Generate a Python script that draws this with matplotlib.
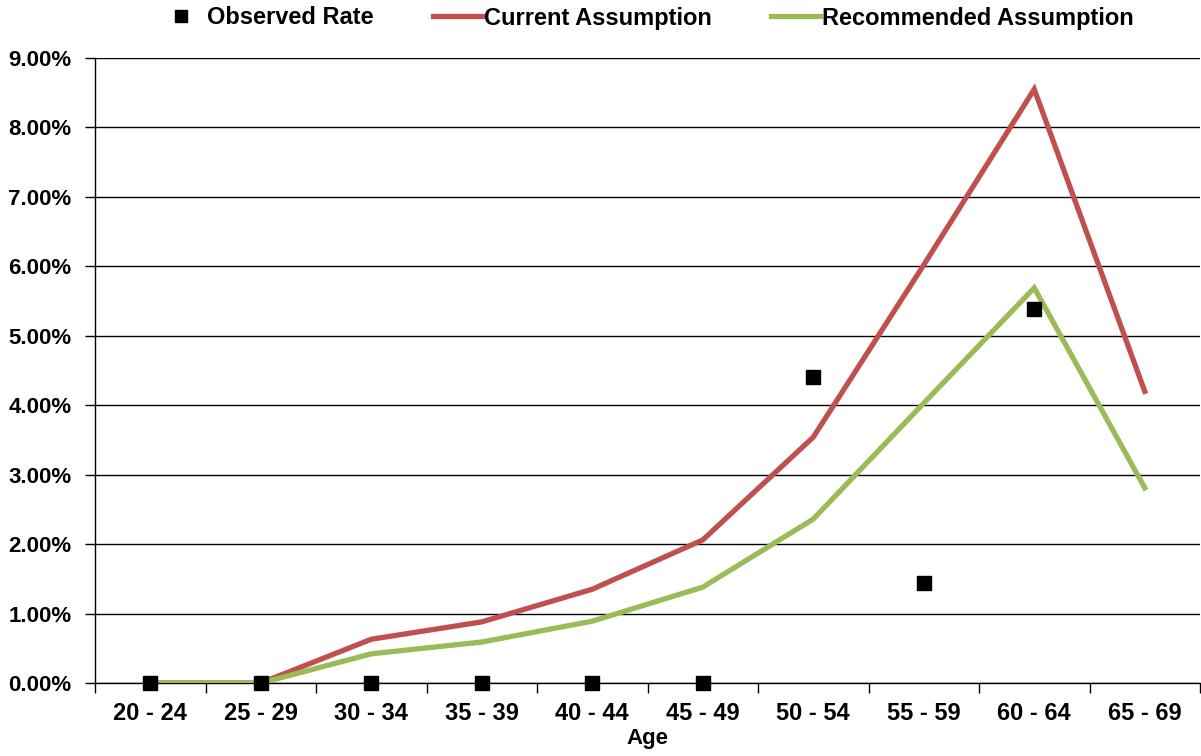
import matplotlib
matplotlib.use("Agg")
import matplotlib.pyplot as plt
from matplotlib.ticker import FuncFormatter, FixedLocator
import numpy as np

categories = ["20 - 24", "25 - 29", "30 - 34", "35 - 39", "40 - 44",
              "45 - 49", "50 - 54", "55 - 59", "60 - 64", "65 - 69"]
observed = [0.0, 0.0, 0.0, 0.0, 0.0, 0.0, 4.41, 1.44, 5.38, None]
current = [0.0, 0.0, 0.63, 0.88, 1.35, 2.06, 3.54, 6.02, 8.55, 4.20]
recommended = [0.0, 0.0, 0.42, 0.59, 0.89, 1.38, 2.36, 4.03, 5.69, 2.81]
yticks = [0, 1, 2, 3, 4, 5, 6, 7, 8, 9]

plt.rcParams['font.family'] = ['Liberation Sans', 'DejaVu Sans']
plt.rcParams['font.weight'] = 'bold'

fig = plt.figure(figsize=(12.01, 7.56), dpi=100)
ax = fig.add_axes([95/1201, 1 - 683/756, (1200 - 95)/1201, (683 - 58)/756])

x = np.arange(len(categories))
ax.plot(x, current, color="#C0504D", lw=3.8, label="Current Assumption",
        solid_joinstyle='miter', zorder=3)
ax.plot(x, recommended, color="#9BBB59", lw=3.8, label="Recommended Assumption",
        solid_joinstyle='miter', zorder=3)
ox = [i for i, v in enumerate(observed) if v is not None]
oy = [v for v in observed if v is not None]
ax.plot(ox, oy, linestyle='none', marker='s', ms=10, color='black',
        label="Observed Rate", zorder=4, clip_on=False)

ax.set_xlim(-0.5, len(categories) - 0.5)
ax.set_ylim(0, 9)
ax.set_yticks(yticks)
ax.yaxis.set_major_formatter(FuncFormatter(lambda v, p: f"{v:.2f}%"))
ax.set_xticks(x)
ax.set_xticklabels(categories)
ax.xaxis.set_minor_locator(FixedLocator(np.arange(-0.5, len(categories), 1.0)))
ax.tick_params(axis='x', which='major', length=0, pad=14, labelsize=17)
ax.tick_params(axis='x', which='minor', length=7, width=1, direction='out')
ax.tick_params(axis='y', length=7, width=1, direction='out', labelsize=16, pad=10)
ax.grid(axis='y', color='black', lw=1)
ax.set_axisbelow(True)
for s in ['top', 'right']:
    ax.spines[s].set_visible(False)
ax.spines['left'].set_linewidth(1)
ax.spines['bottom'].set_linewidth(1)
ax.set_xlabel("Age", fontsize=16, fontweight='bold', labelpad=2)

h, l = ax.get_legend_handles_labels()
order = [2, 0, 1]
fig.legend([h[i] for i in order], [l[i] for i in order], loc='center',
           bbox_to_anchor=(645/1201, 1 - 18/756), ncol=3, frameon=False,
           fontsize=17, handlelength=2.1, handletextpad=0.05, columnspacing=2.5,
           markerscale=0.8, borderpad=0.1)

fig.savefig("out.png", dpi=100)
